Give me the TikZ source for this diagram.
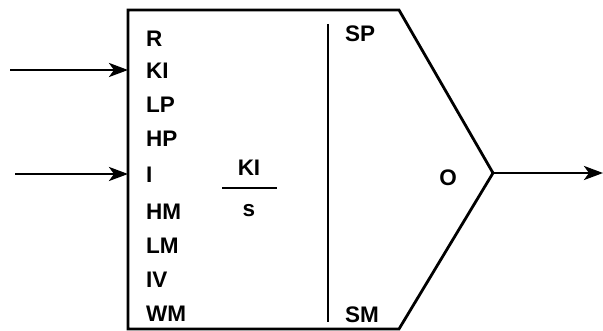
\documentclass[tikz,border=0pt]{standalone}
\usepackage{fontspec}
\setmainfont{Liberation Sans}
\usetikzlibrary{arrows.meta}
\begin{document}
\begin{tikzpicture}[x=1pt,y=-1pt,
  lbl/.style={font=\fontsize{22.5}{24}\selectfont\bfseries, inner sep=0pt, anchor=west},
  ctr/.style={font=\fontsize{22.5}{24}\selectfont\bfseries, inner sep=0pt},
  edge/.style={line width=2.8pt, line join=miter},
  sig/.style={line width=2.8pt, -{Stealth[length=19pt,width=14pt,inset=5pt]}}]
\useasboundingbox (0,0) rectangle (603,331);
% block outline
\coordinate (tl) at (128,10);
\coordinate (tr) at (399,10);
\coordinate (tip) at (493,173);
\coordinate (br) at (399,329);
\coordinate (bl) at (128,329);
\draw[edge] (tl) -- (tr) -- (tip) -- (br) -- (bl) -- cycle;
% internal divider
\coordinate (vtop) at (328,24);
\coordinate (vbot) at (328,322);
\draw[line width=2.8pt] (vtop) -- (vbot);
% input labels
\node[lbl] (R)  at (146,39)  {R};
\node[lbl] (KI) at (146,71)  {KI};
\node[lbl] (LP) at (146,105) {LP};
\node[lbl] (HP) at (146,139) {HP};
\node[lbl] (I)  at (146,175) {I};
\node[lbl] (HM) at (146,212) {HM};
\node[lbl] (LM) at (146,246) {LM};
\node[lbl] (IV) at (146,280) {IV};
\node[lbl] (WM) at (146,314) {WM};
% transfer function
\node[ctr] (num) at (249,168) {KI};
\node[ctr] (den) at (249,211) {s};
\coordinate (fl) at (222,188);
\coordinate (fr) at (277,188);
\draw[line width=2.6pt] (fl) -- (fr);
% output labels
\node[lbl] (SP) at (345,34)  {SP};
\node[lbl] (SM) at (345,315) {SM};
\node[ctr] (O)  at (448,178) {O};
% connectors
\coordinate (in1) at (10,70);
\coordinate (in2) at (15,174);
\coordinate (in1e) at (128,70);
\coordinate (in2e) at (128,174);
\coordinate (out) at (603,173);
\draw[sig] (in1) -- (in1e);
\draw[sig] (in2) -- (in2e);
\draw[sig] (tip) -- (out);
\end{tikzpicture}
\end{document}
